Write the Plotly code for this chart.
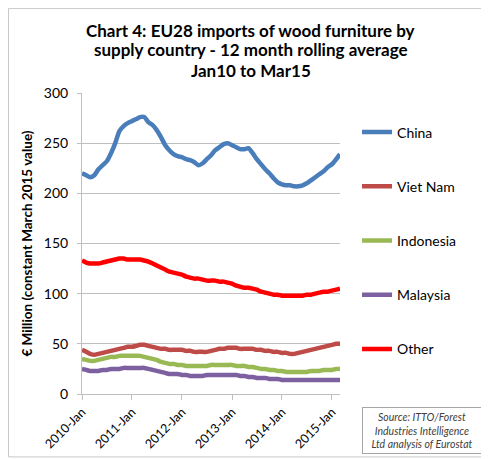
import pandas as pd
import plotly.graph_objects as go

months = pd.date_range("2010-01-01", "2015-03-01", freq="MS")

china = [220, 218, 216, 218, 224, 228, 232, 240, 250, 262, 267, 270, 272, 274, 276, 276,
         271, 268, 263, 256, 248, 243, 239, 237, 236, 234, 233, 231, 228, 230, 234, 238,
         243, 246, 249, 250, 248, 246, 244, 244, 245, 240, 234, 229, 224, 220, 215, 211,
         209, 208, 208, 207, 207, 208, 210, 213, 216, 219, 222, 226, 229, 234, 239]
viet_nam = [44, 42, 40, 39, 40, 41, 42, 43, 44, 45, 46, 47, 47, 48, 49, 49,
            48, 47, 46, 45, 45, 44, 44, 44, 44, 43, 43, 42, 42, 42, 42, 43,
            44, 45, 45, 46, 46, 46, 45, 45, 45, 45, 44, 44, 43, 43, 42, 42,
            41, 41, 40, 40, 41, 42, 43, 44, 45, 46, 47, 48, 49, 50, 50]
indonesia = [35, 34, 33, 33, 34, 35, 36, 37, 37, 38, 38, 38, 38, 38, 38, 37,
             36, 35, 34, 32, 31, 30, 30, 29, 29, 28, 28, 28, 28, 28, 28, 29,
             29, 29, 29, 29, 29, 28, 28, 28, 27, 27, 26, 25, 25, 24, 24, 23,
             23, 22, 22, 22, 22, 22, 22, 23, 23, 23, 24, 24, 24, 25, 25]
malaysia = [25, 24, 23, 23, 23, 24, 24, 25, 25, 25, 26, 26, 26, 26, 26, 26,
            25, 24, 23, 22, 21, 20, 20, 20, 19, 19, 18, 18, 18, 18, 19, 19,
            19, 19, 19, 19, 19, 19, 18, 18, 17, 17, 16, 16, 16, 15, 15, 15,
            14, 14, 14, 14, 14, 14, 14, 14, 14, 14, 14, 14, 14, 14, 14]
other = [133, 131, 130, 130, 130, 131, 132, 133, 134, 135, 135, 134, 134, 134, 134, 133,
         132, 130, 128, 126, 124, 122, 121, 120, 119, 117, 116, 115, 115, 114, 113, 113,
         113, 112, 112, 111, 110, 108, 107, 106, 106, 105, 104, 102, 101, 100, 99, 99,
         98, 98, 98, 98, 98, 98, 99, 99, 100, 101, 102, 102, 103, 104, 105]

series = [
    ("China", china, "#4A7EBB"),
    ("Viet Nam", viet_nam, "#BE4B48"),
    ("Indonesia", indonesia, "#98B954"),
    ("Malaysia", malaysia, "#7D60A0"),
    ("Other", other, "#FF0000"),
]

title_lines = ["Chart 4: EU28 imports of wood furniture by",
               "supply country - 12 month rolling average",
               "Jan10 to Mar15"]

FONT = "Lato"
fig = go.Figure()
for name, vals, col in series:
    fig.add_trace(go.Scatter(x=months, y=vals, mode="lines", name=name,
                             legendgroup=name,
                             line=dict(color=col, width=4.5, shape="spline", smoothing=0.6)))

annotations = []
for i, (line, ypos) in enumerate(zip(title_lines, [1.209, 1.143, 1.076])):
    annotations.append(dict(xref="paper", yref="paper", x=0.655, y=ypos,
                            text="<b>" + line + "</b>", showarrow=False,
                            xanchor="center", yanchor="middle",
                            font=dict(family=FONT, size=17, color="#000000")))
annotations.append(dict(xref="paper", yref="paper", x=1.318, y=-0.12,
                        text="<i>Source: ITTO/Forest<br>Industries Intelligence<br>Ltd analysis of Eurostat</i>",
                        showarrow=False, align="center", xanchor="center", yanchor="middle",
                        font=dict(family=FONT, size=10.5, color="#404040"),
                        bordercolor="#A6A6A6", borderwidth=1, borderpad=3, width=112))

fig.update_layout(
    width=481, height=451,
    paper_bgcolor="white", plot_bgcolor="white",
    margin=dict(l=74, r=149, t=85, b=65, autoexpand=False),
    font=dict(family=FONT, color="#000000"),
    showlegend=True,
    legend=dict(x=1.066, xanchor="left", y=0.922, yanchor="top",
                font=dict(family=FONT, size=14, color="#000000"),
                tracegroupgap=33, traceorder="grouped", bgcolor="rgba(0,0,0,0)"),
    xaxis=dict(range=["2010-01-01", "2015-03-01"], tickformat="%Y-%b", dtick="M12",
               tick0="2010-01-01", tickangle=-45, showgrid=False, automargin=False,
               showline=True, linecolor="#BFBFBF", ticks="outside", tickcolor="#BFBFBF",
               ticklen=5, tickfont=dict(family=FONT, size=12.5, color="#000000")),
    yaxis=dict(range=[0, 300], dtick=50, showgrid=True, gridcolor="#BFBFBF",
               showline=True, linecolor="#BFBFBF", ticks="outside", tickcolor="#BFBFBF",
               ticklen=4, ticklabelstandoff=6, zeroline=False, automargin=False,
               tickfont=dict(family=FONT, size=14, color="#000000"),
               title=dict(text="<b>€ Million (constant March 2015 value)</b>", standoff=8,
                          font=dict(family=FONT, size=13.5, color="#000000"))),
    shapes=[dict(type="rect", xref="paper", yref="paper", x0=-0.285, x1=1.562,
                 y0=-0.209, y1=1.281, line=dict(color="#C8C8C8", width=1))],
    annotations=annotations,
)

fig.write_html("out.html")
